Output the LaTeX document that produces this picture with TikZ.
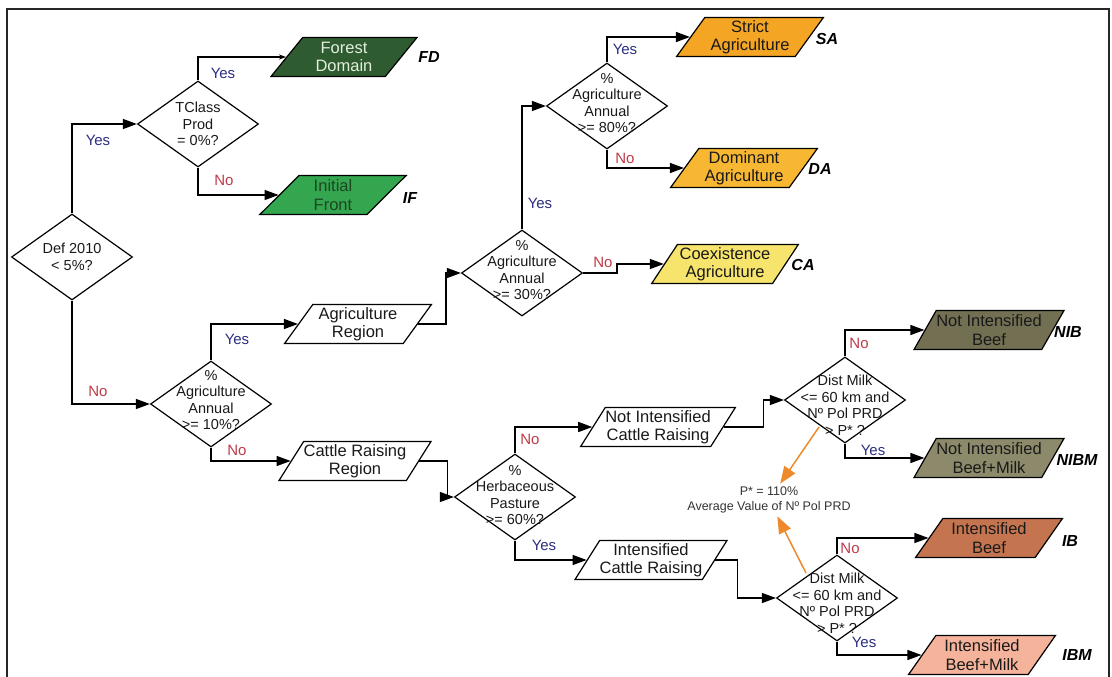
\documentclass[tikz,border=0pt]{standalone}
\usepackage{fontspec}
\setmainfont{Liberation Sans}
\usepackage{xcolor}
\usepackage{tikz}
\usetikzlibrary{shapes,arrows.meta}
\definecolor{fdgreen}{HTML}{2E5C30}
\definecolor{fdtext}{HTML}{E4EEDC}
\definecolor{ifgreen}{HTML}{34A650}
\definecolor{iftext}{HTML}{1B4620}
\definecolor{saorange}{HTML}{F5A524}
\definecolor{daorange}{HTML}{F7B732}
\definecolor{cayellow}{HTML}{F7E46C}
\definecolor{nibolive}{HTML}{726F52}
\definecolor{nibmolive}{HTML}{8C8A6A}
\definecolor{ibbrown}{HTML}{C47550}
\definecolor{ibmsalmon}{HTML}{F4B39A}
\definecolor{yesblue}{HTML}{2B2E7E}
\definecolor{nored}{HTML}{C03A48}
\definecolor{notearrow}{HTML}{EE8A2C}
\tikzstyle{decision} = [diamond, draw, line width=1.2pt, minimum width=121,
                        minimum height=86, inner sep=0pt]
\tikzstyle{dtext} = [align=center, inner sep=0pt, text=black!90,
                     font=\fontsize{14.5}{16.5}\selectfont]
\tikzstyle{io} = [trapezium, trapezium left angle=54, trapezium right angle=126,
                  trapezium stretches=true, draw, line width=1.2pt,
                  minimum width=147, minimum height=39, inner sep=0pt,
                  align=center, text=black!90, font=\fontsize{16.5}{18.5}\selectfont]
\tikzstyle{flow} = [draw, line width=1.3pt, -{Triangle[length=14pt,width=10pt]}]
\tikzstyle{thinflow} = [draw, line width=1.1pt, -{Stealth[length=7pt,width=5pt]}]
\tikzstyle{note} = [draw=notearrow, line width=1.5pt,
                    -{Triangle[length=17pt,width=13pt,fill=notearrow]}]
\tikzstyle{yeslbl} = [text=yesblue, font=\fontsize{15}{17}\selectfont]
\tikzstyle{nolbl} = [text=nored, font=\fontsize{15}{17}\selectfont]
\tikzstyle{classlbl} = [font=\fontsize{16}{18}\selectfont\bfseries\itshape]

\begin{document}
\begin{tikzpicture}[x=1pt, y=-1pt]
\useasboundingbox (0,0) rectangle (1112,677);
% frame
\draw[line width=1.6pt, draw=black!85] (7,9) rectangle (1109,700);

% decisions
\node[decision] (d1) at (72,257) {};
\node[dtext] (d1t) at (d1) {Def 2010\\< 5\%?};
\node[decision] (d2) at (198,124) {};
\node[dtext] (d2t) at (d2) {TClass\\Prod\\= 0\%?};
\node[decision] (d5) at (211,404) {};
\node[dtext] (d5t) at ([yshift=4]d5.center) {\%\\Agriculture\\Annual\\>= 10\%?};
\node[decision] (d3) at (522,273) {};
\node[dtext] (d3t) at ([yshift=3]d3.center) {\%\\Agriculture\\Annual\\>= 30\%?};
\node[decision] (d4) at (607,106) {};
\node[dtext] (d4t) at ([yshift=3]d4.center) {\%\\Agriculture\\Annual\\>= 80\%?};
\node[decision] (d6) at (515,497) {};
\node[dtext] (d6t) at ([yshift=2]d6.center) {\%\\Herbaceous\\Pasture\\>= 60\%?};
\node[decision] (d7) at (845,400) {};
\node[dtext] (d7t) at ([yshift=-5]d7.center) {Dist Milk\\<= 60 km and\\Nº Pol PRD\\> P* ?};
\node[decision] (d8) at (837,598) {};
\node[dtext] (d8t) at ([yshift=-5]d8.center) {Dist Milk\\<= 60 km and\\Nº Pol PRD\\> P* ?};

% regions
\node[io] (ar) at (358,324) {Agriculture\\Region};
\node[io] (crr) at (355,461) {Cattle Raising\\Region};
\node[io] (nicr) at (658,427) {Not Intensified\\Cattle Raising};
\node[io] (icr) at (651,560) {Intensified\\Cattle Raising};

% classes
\node[io, fill=fdgreen, text=fdtext] (fd) at (344,57) {Forest\\Domain};
\node[io, fill=ifgreen, text=iftext] (if) at (333,195) {Initial\\Front};
\node[io, fill=saorange] (sa) at (750,37) {Strict\\Agriculture};
\node[io, fill=daorange] (da) at (744,168) {Dominant\\Agriculture};
\node[io, fill=cayellow] (ca) at (725,264) {Coexistence\\Agriculture};
\node[io, fill=nibolive] (nib) at (989,330) {Not Intensified\\Beef};
\node[io, fill=nibmolive] (nibm) at (989,458) {Not Intensified\\Beef+Milk};
\node[io, fill=ibbrown] (ib) at (989,538) {Intensified\\Beef};
\node[io, fill=ibmsalmon] (ibm) at (982,655) {Intensified\\Beef+Milk};

\node[classlbl] (fdl) at (429,57) {FD};
\node[classlbl] (ifl) at (410,198) {IF};
\node[classlbl] (sal) at (827,39) {SA};
\node[classlbl] (dal) at (820,169) {DA};
\node[classlbl] (cal) at (803,265) {CA};
\node[classlbl] (nibl) at (1068,332) {NIB};
\node[classlbl] (nibml) at (1077,460) {NIBM};
\node[classlbl] (ibl) at (1070,541) {IB};
\node[classlbl] (ibml) at (1077,655) {IBM};

% connectors
\draw[flow] (d1.north) |- (d2.west);
\draw[thinflow] (d2.north) |- (fd);
\draw[flow] (d2.south) |- (if);
\draw[flow] (d1.south) |- (d5.west);
\draw[flow] (d5.north) |- (ar);
\draw[flow] (d5.south) |- (crr);
\draw[flow] (ar.east) -- ++(28,0) |- (d3.west);
\draw[flow] (d3.north) |- (d4.west);
\draw[flow] (d4.north) |- (sa);
\draw[flow] (d4.south) |- (da);
\draw[flow] (d3.east) -- ++(34,0) |- (ca);
\draw[flow] (crr.east) -- ++(28,0) |- (d6.west);
\draw[flow] (d6.north) |- (nicr);
\draw[flow] (d6.south) |- (icr);
\draw[flow] (nicr.east) -- ++(40,0) |- (d7.west);
\draw[flow] (d7.north) |- (nib);
\draw[flow] (d7.south) |- (nibm);
\draw[flow] (icr.east) -- ++(22,0) |- (d8.west);
\draw[flow] (d8.north) |- (ib);
\draw[flow] (d8.south) |- (ibm);

% yes / no
\node[yeslbl] (y1) at (98,140) {Yes};
\node[yeslbl] (y2) at (223,73) {Yes};
\node[nolbl] (n1) at (224,180) {No};
\node[nolbl] (n2) at (98,391) {No};
\node[yeslbl] (y3) at (237,339) {Yes};
\node[nolbl] (n3) at (237,450) {No};
\node[yeslbl] (y4) at (540,203) {Yes};
\node[yeslbl] (y5) at (625,49) {Yes};
\node[nolbl] (n4) at (625,158) {No};
\node[nolbl] (n5) at (603,262) {No};
\node[nolbl] (n6) at (530,439) {No};
\node[yeslbl] (y6) at (544,545) {Yes};
\node[nolbl] (n7) at (859,343) {No};
\node[yeslbl] (y7) at (873,450) {Yes};
\node[nolbl] (n8) at (850,548) {No};
\node[yeslbl] (y8) at (864,642) {Yes};

% P* note
\node[align=center, inner sep=3pt, text=black!80, font=\fontsize{12.5}{15}\selectfont]
  (ptext) at (769,500) {P* = 110\%\\Average Value of Nº Pol PRD};
\draw[note] ([shift={(-26,27)}]d7.center) -- (ptext);
\draw[note] ([shift={(-31,-25)}]d8.center) -- (ptext);

\end{tikzpicture}
\end{document}
